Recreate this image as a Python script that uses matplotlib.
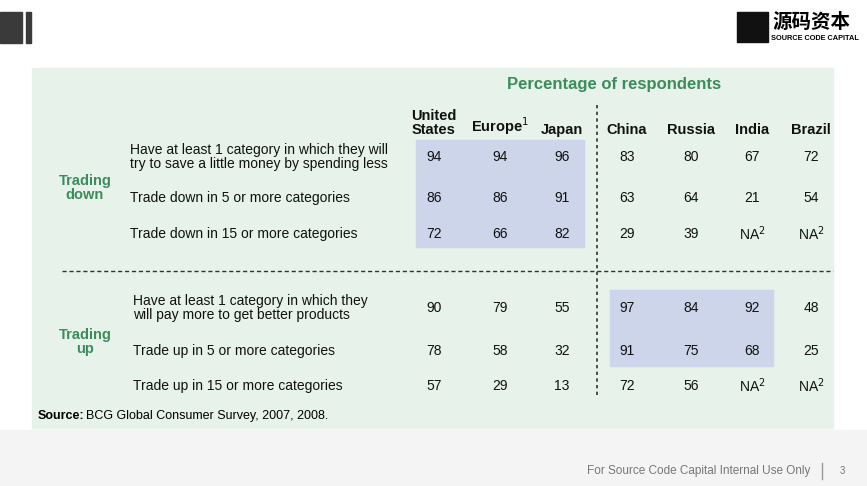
import matplotlib
matplotlib.use("Agg")
import matplotlib.pyplot as plt
from matplotlib.patches import Rectangle

plt.rcParams['font.family'] = ['Liberation Sans', 'Noto Sans CJK SC', 'DejaVu Sans']

columns = ["United\nStates", "Europe$^1$", "Japan", "China", "Russia", "India", "Brazil"]
row_labels = [
    "Have at least 1 category in which they will\ntry to save a little money by spending less",
    "Trade down in 5 or more categories",
    "Trade down in 15 or more categories",
    "Have at least 1 category in which they\nwill pay more to get better products",
    "Trade up in 5 or more categories",
    "Trade up in 15 or more categories",
]
values = [
    ["94", "94", "96", "83", "80", "67", "72"],
    ["86", "86", "91", "63", "64", "21", "54"],
    ["72", "66", "82", "29", "39", "NA$^2$", "NA$^2$"],
    ["90", "79", "55", "97", "84", "92", "48"],
    ["78", "58", "32", "91", "75", "68", "25"],
    ["57", "29", "13", "72", "56", "NA$^2$", "NA$^2$"],
]
groups = ["Trading\ndown", "Trading\nup"]

W, H = 867, 486
fig = plt.figure(figsize=(W/100, H/100), dpi=100)
ax = fig.add_axes([0, 0, 1, 1])
ax.set_xlim(0, W); ax.set_ylim(H, 0); ax.axis('off')

ax.add_patch(Rectangle((0, 430), W, 56, color='#f4f4f4', zorder=0))
ax.add_patch(Rectangle((0, 12), 22, 31, color='#3a3a3a'))
ax.add_patch(Rectangle((26, 12), 5, 31, color='#3a3a3a'))
ax.add_patch(Rectangle((737, 12), 31, 30, color='#111111'))
ax.text(772, 22, "源码资本", fontsize=14, fontweight='bold', va='center', ha='left',
        family=['Noto Sans CJK SC'])
ax.text(771, 38, "SOURCE CODE CAPITAL", fontsize=5.3, fontweight='bold', va='center', ha='left')

ax.add_patch(Rectangle((32, 68), 801, 360, color='#e6f2ea', zorder=1))
ax.add_patch(Rectangle((416, 140), 168, 107, color='#ccd5e9', zorder=2))
ax.add_patch(Rectangle((610, 290), 163, 76, color='#ccd5e9', zorder=2))
ax.plot([62, 833], [271, 271], ls=(0, (3, 2)), color='#333333', lw=1, zorder=3)
ax.plot([597, 597], [105, 395], ls=(0, (2, 2)), color='#333333', lw=1.2, zorder=3)

green = '#3c8c5c'
ax.text(614, 84, "Percentage of respondents", color=green, fontsize=12, fontweight='bold',
        ha='center', va='center', zorder=4)

col_x = [434, 500, 562, 627, 691, 752, 811]
row_y = [157, 198, 234, 308, 351, 386]
for x, c in zip(col_x, columns):
    ax.text(x, 137, c, fontsize=10.5, fontweight='bold', ha='center', va='bottom',
            linespacing=1.0, zorder=4, color='#111111')
label_x = [130, 130, 130, 133, 133, 133]
for i, (y, lab) in enumerate(zip(row_y, row_labels)):
    ax.text(label_x[i], y, lab, fontsize=10, ha='left', va='center', linespacing=1.0,
            zorder=4, color='#111111')
    for x, v in zip(col_x, values[i]):
        ax.text(x, y, v, fontsize=10, ha='center', va='center', zorder=4, color='#111111')
ax.text(85, 188, groups[0], color=green, fontsize=10.5, fontweight='bold', ha='center',
        va='center', linespacing=1.0, zorder=4)
ax.text(85, 342, groups[1], color=green, fontsize=10.5, fontweight='bold', ha='center',
        va='center', linespacing=1.0, zorder=4)
ax.text(38, 416, "Source:", fontsize=9, fontweight='bold', ha='left', va='center', zorder=4)
ax.text(86, 416, "BCG Global Consumer Survey, 2007, 2008.", fontsize=9,
        ha='left', va='center', zorder=4)

ax.text(810, 471, "For Source Code Capital Internal Use Only", fontsize=8.5, color='#777777',
        ha='right', va='center')
ax.plot([822, 822], [463, 479], color='#999999', lw=1)
ax.text(842, 471, "3", fontsize=7, color='#777777', ha='center', va='center')

fig.savefig("out.png", dpi=100)
